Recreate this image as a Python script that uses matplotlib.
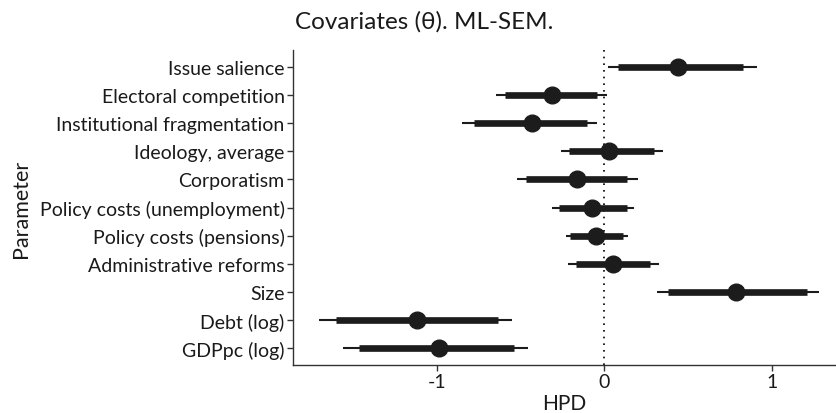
import matplotlib
matplotlib.use("Agg")
import matplotlib.pyplot as plt

params = ["Issue salience", "Electoral competition", "Institutional fragmentation",
          "Ideology, average", "Corporatism", "Policy costs (unemployment)",
          "Policy costs (pensions)", "Administrative reforms", "Size",
          "Debt (log)", "GDPpc (log)"]
point = [0.44, -0.314, -0.434, 0.030, -0.165, -0.072, -0.050, 0.050, 0.785, -1.120, -0.989]
outer_lo = [0.02, -0.647, -0.848, -0.261, -0.519, -0.314, -0.231, -0.215, 0.312, -1.701, -1.558]
outer_hi = [0.91, 0.014, -0.042, 0.352, 0.203, 0.177, 0.139, 0.324, 1.280, -0.553, -0.458]
inner_lo = [0.084, -0.593, -0.778, -0.213, -0.468, -0.273, -0.205, -0.169, 0.382, -1.604, -1.463]
inner_hi = [0.83, -0.042, -0.101, 0.299, 0.137, 0.133, 0.109, 0.273, 1.207, -0.633, -0.539]
xticks = [-1, 0, 1]

plt.rcParams['font.family'] = ['Lato', 'DejaVu Sans']

fig = plt.figure(figsize=(8.36, 4.14), dpi=100)
ax = fig.add_axes([293/836, 1-366/414, (836-293)/836, (366-51)/414])

n = len(params)
ys = list(range(n, 0, -1))
col = '#1c1c1c'
ax.axvline(0, color='black', linestyle=(0, (1, 3)), linewidth=1.2, zorder=1)
ax.hlines(ys, outer_lo, outer_hi, color=col, linewidth=1.5, zorder=2)
ax.hlines(ys, inner_lo, inner_hi, color=col, linewidth=4.8, zorder=3)
ax.plot(point, ys, 'o', color=col, markersize=12, zorder=4)

ax.set_xlim(-1.858, 1.383)
ax.set_ylim(0.4, n + 0.6)
ax.set_yticks(ys)
ax.set_yticklabels(params)
ax.set_xticks(xticks)
ax.set_xticklabels([str(t) for t in xticks])
for s in ['top', 'right']:
    ax.spines[s].set_visible(False)
for s in ['left', 'bottom']:
    ax.spines[s].set_color('#333333')
    ax.spines[s].set_linewidth(1.0)
ax.tick_params(axis='both', colors='#333333', labelcolor='#1a1a1a', labelsize=14,
               length=4, width=1.0, pad=2)
ax.set_xlabel("HPD", fontsize=15, color='#1a1a1a', labelpad=2)
ax.set_ylabel("Parameter", fontsize=15.5, color='#1a1a1a', labelpad=6)
fig.text(295/836, 1-22/414, "Covariates (θ). ML-SEM.", fontsize=17.5, ha='left', va='center',
         color='#1a1a1a')

fig.savefig("out.png", dpi=100)
